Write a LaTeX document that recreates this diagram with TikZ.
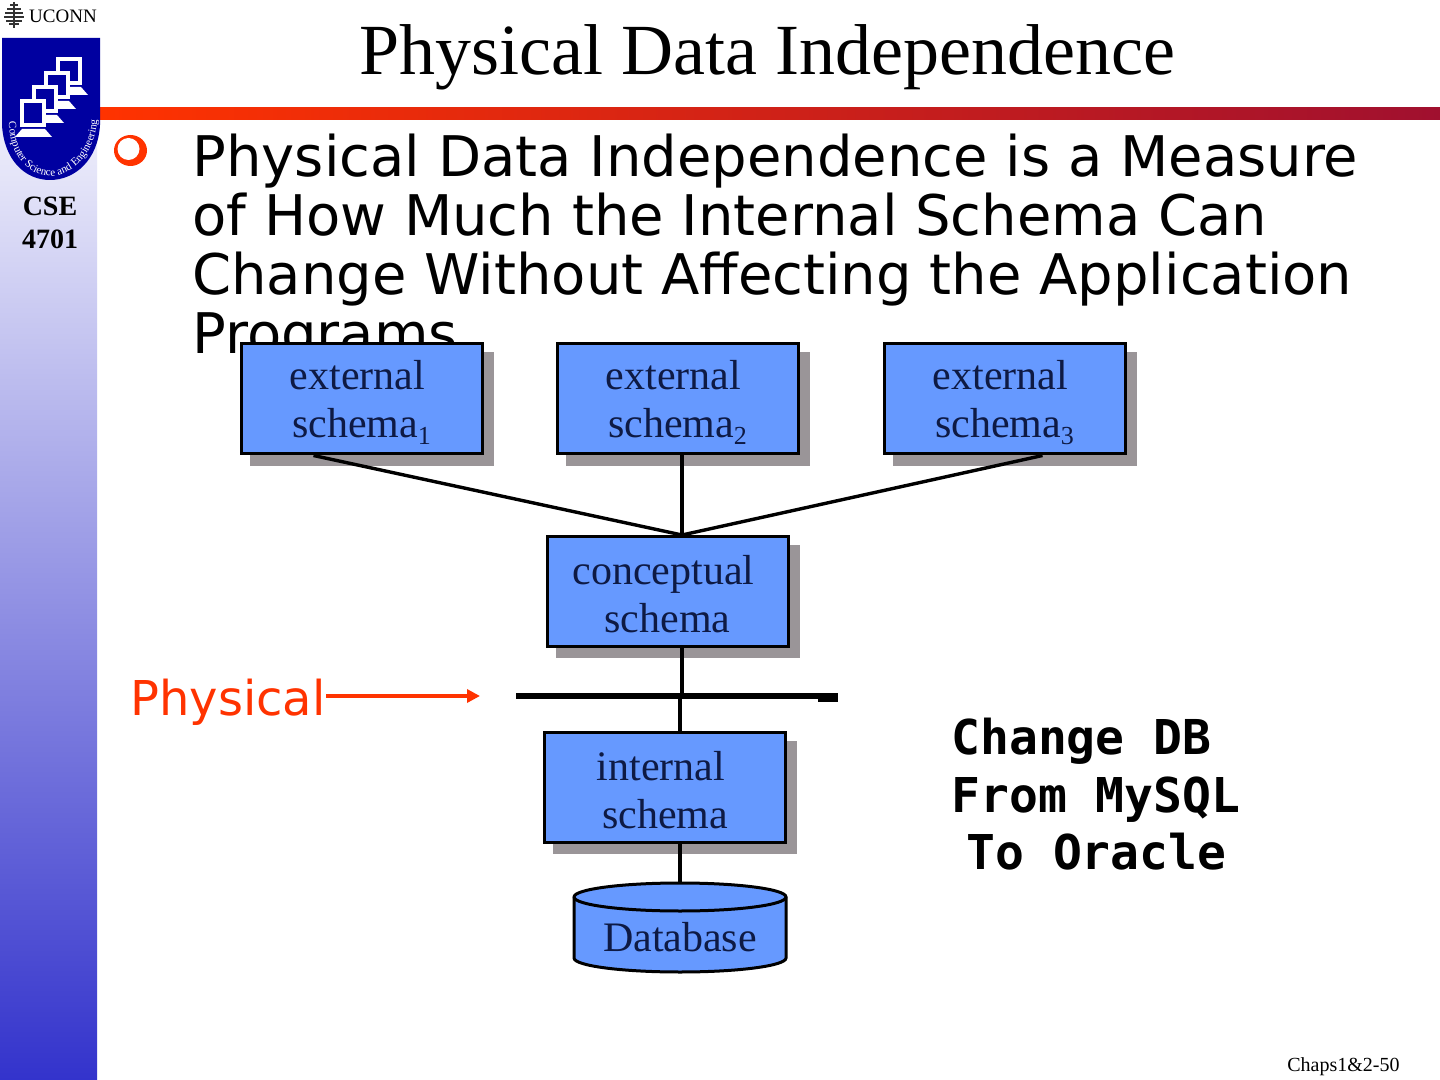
\documentclass[tikz,border=0pt]{standalone}
\usepackage{fontspec}
\setmainfont{Liberation Serif}
\setsansfont{DejaVu Sans}
\setmonofont{DejaVu Sans Mono}
\usetikzlibrary{shadows,arrows.meta,decorations.text}
\definecolor{barside}{RGB}{51,51,204}
\definecolor{bandleft}{RGB}{255,51,0}
\definecolor{bandright}{RGB}{160,16,47}
\definecolor{schemablue}{RGB}{102,153,255}
\definecolor{schemashade}{RGB}{154,149,152}
\definecolor{schemaink}{RGB}{14,26,68}
\definecolor{logoblue}{RGB}{0,0,160}
\newcommand{\schematext}[2]{\rule{0pt}{18pt}#1\hspace*{4pt}\\#2}
\newcommand{\schemasub}[1]{\raisebox{-3.5pt}{\fontsize{13}{13}\selectfont #1}}
\tikzset{
  schemabox/.style={draw=black,line width=1.5pt,fill=schemablue,inner sep=0pt,
    minimum width=120.5pt,minimum height=55pt,align=center,text=schemaink,
    font=\fontsize{21}{24}\selectfont,
    drop shadow={shadow xshift=5pt,shadow yshift=-5pt,fill=schemashade,draw=schemashade,line width=1.5pt,opacity=1}},
  schemaline/.style={black,line width=1.7pt}
}
\begin{document}
\begin{tikzpicture}[x=0.5pt,y=-0.5pt]
  \useasboundingbox (0,0) rectangle (1440,1080);
  \fill[white] (0,0) rectangle (1440,1080);
  \shade[top color=white,bottom color=barside] (0,40) rectangle (97,1080);
  \fill[white] (0,0) rectangle (100,38);
  \shade[left color=bandleft,right color=bandright] (100,108) rectangle (1440,120);
  \fill[logoblue] (2,38) -- (100,38) -- (100,125) .. controls (98,160) and (75,180) .. (50,180)
    .. controls (25,180) and (4,160) .. (2,125) -- cycle;
  \foreach \i in {3,2,1,0}{
    \fill[white] (20+12*\i,99-14*\i) rectangle ++(26,28);
    \fill[logoblue] (24+12*\i,103-14*\i) rectangle ++(18,20);
    \fill[white] (22+12*\i,129-14*\i) -- (45+12*\i,129-14*\i) -- (52+12*\i,137-14*\i) -- (15+12*\i,137-14*\i) -- cycle;
  }
  \path[decorate,decoration={text along path,text align=center,text color=white,
      text={|\fontsize{5.5}{6}\selectfont|Computer Science and Engineering}}]
    (9,124) .. controls (10,155) and (28,176) .. (50,176) .. controls (72,176) and (94,155) .. (97,122);
  \foreach \w/\t in {4/4,7/8,9/12,10/16,8/20,5/23}{
    \fill[black!80] (14-\w,\t) rectangle (14+\w,\t+2.5);
  }
  \draw[black!80,line width=0.8pt] (14,2) -- (14,28);
  \node[font=\fontsize{9.5}{10}\selectfont] (uconn) at (63,16) {UCONN};
  \node[font=\fontsize{14}{16.5}\selectfont\bfseries,align=center] (course) at (50,223) {CSE\\4701};
  \node[font=\fontsize{36}{36}\selectfont] (title) at (767.5,57) {Physical Data Independence};
  \fill[bandleft] (130.5,150.5) ellipse (16.5 and 15.5);
  \fill[white] (128.5,149) ellipse (11 and 11);
  \node[font=\fontsize{28}{29.5}\selectfont\sffamily,align=left,anchor=north west,inner sep=0pt] (body) at (192,134)
    {Physical Data Independence is a Measure\\of How Much the Internal Schema Can\\Change Without Affecting the Application\\Programs};
  \node[schemabox] (ext1) at (361.5,399) {\schematext{external}{schema\schemasub{1}}};
  \node[schemabox] (ext2) at (677.5,399) {\schematext{external}{schema\schemasub{2}}};
  \node[schemabox] (ext3) at (1004.5,399) {\schematext{external}{schema\schemasub{3}}};
  \node[schemabox] (conc) at (667.5,591) {\schematext{conceptual}{schema}};
  \node[schemabox] (intern) at (665,787) {\schematext{internal}{schema}};
  \coordinate (join) at (682,535);
  \coordinate (barleft) at (516,696);
  \coordinate (barright) at (838,696);
  \coordinate (barup) at (682,696);
  \coordinate (bardown) at (680,696);
  \coordinate (dbtop) at (680,883);
  \draw[schemaline] ([xshift=-24pt]ext1.south) -- (join);
  \draw[schemaline] (ext2.south -| join) -- (join);
  \draw[schemaline] ([xshift=19pt]ext3.south) -- (join);
  \draw[schemaline] (conc.south -| join) -- (barup);
  \draw[schemaline] (bardown) -- (intern.north -| bardown);
  \draw[schemaline] (intern.south -| bardown) -- (dbtop);
  \draw[black,line width=3pt] (barleft) -- (barright);
  \fill[black] (818,696) rectangle (838,702);
  \draw[black,line width=1.5pt,fill=schemablue] (574,897) -- (574,958)
    arc[start angle=180,end angle=0,x radius=106,y radius=14] -- (786,897)
    arc[start angle=0,end angle=-180,x radius=106,y radius=14] -- cycle;
  \draw[black,line width=1.5pt] (574,897) arc[start angle=180,end angle=0,x radius=106,y radius=14];
  \node[font=\fontsize{21}{24}\selectfont,text=schemaink] (db) at (680,937) {Database};
  \node[font=\fontsize{24}{24}\selectfont\sffamily,text=bandleft,inner sep=0pt] (phys) at (228,702) {Physical};
  \coordinate (physend) at (480,696);
  \draw[bandleft,line width=2pt,-{Triangle[length=6.5pt,width=6.5pt]}] (phys.east |- physend) -- (physend);
  \node[font=\fontsize{24}{28.75}\selectfont\ttfamily\bfseries,align=left,anchor=north west,inner sep=0pt] (change) at (951,718)
    {Change DB\\From MySQL\\\hspace*{7.5pt}To Oracle};
  \node[font=\fontsize{10}{12}\selectfont,anchor=east,inner sep=0pt] (page) at (1400,1067) {Chaps1\&2-50};
\end{tikzpicture}
\end{document}
